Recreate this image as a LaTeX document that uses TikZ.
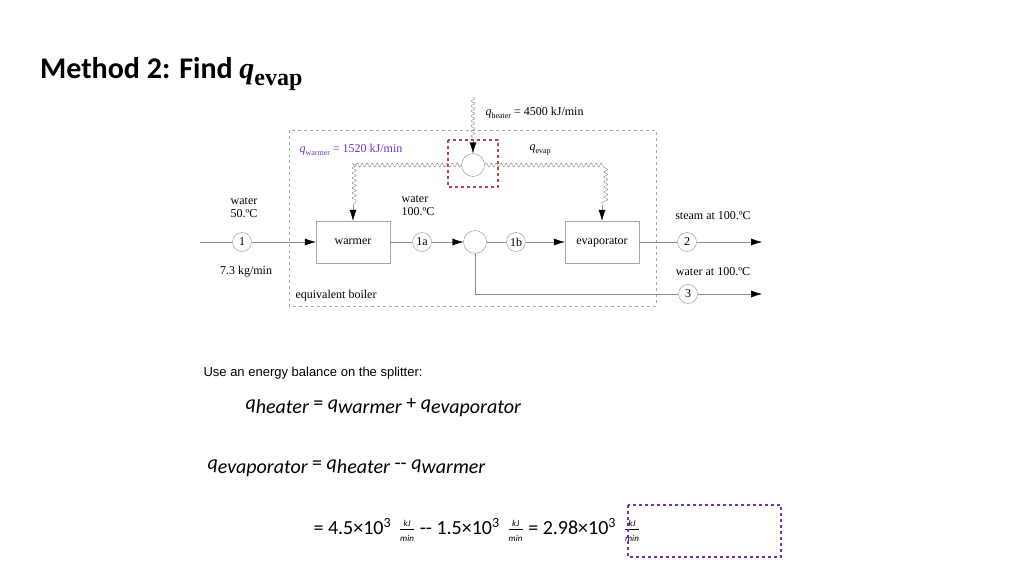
\documentclass[tikz,border=0pt]{standalone}
\usepackage{fontspec}
\setmainfont{Liberation Serif}
\newfontfamily\calib{Carlito}
\newfontfamily\arialf{Liberation Sans}
\usetikzlibrary{positioning,calc,decorations.pathmorphing,arrows.meta}
\definecolor{violet}{RGB}{112,48,200}
\definecolor{brick}{RGB}{180,70,70}
\newcommand{\qsub}[1]{\textit{q}\raisebox{-3pt}{\footnotesize #1}}
\newcommand{\eqq}[1]{\textit{q}\raisebox{-4pt}{\itshape #1}}

\begin{document}
\begin{tikzpicture}[%
    x=1pt, y=-1pt,
    font=\fontsize{12}{13}\selectfont,
    line/.style={draw=black!45},
    flow/.style={line, -{Latex[length=11pt,width=7pt,color=black]}},
    wave/.style={draw=black!45, decorate,
        decoration={snake, amplitude=2pt, segment length=5pt}},
    unit/.style={draw=black!35, minimum width=74pt, minimum height=42pt, inner sep=0pt},
    strm/.style={draw=black!45, circle, minimum size=19pt, inner sep=0pt},
    mix/.style={draw=black!45, circle, minimum size=23pt, inner sep=0pt}
]
\useasboundingbox (0,0) rectangle (1024,576);
    % title
    \node[anchor=base west, inner sep=0pt] (title) at (40,78)
        {\calib\bfseries\fontsize{30}{32}\selectfont Method 2: Find \textrm{\itshape q\raisebox{-7pt}{\upshape\fontsize{24}{24}\selectfont evap}}};
    % boundary
    \draw[black!35, dashed] (289,130) rectangle (656,306);
    \node[anchor=west] (boiler) at (292,296) {equivalent boiler};
    % units
    \node[unit] (warmer) at (353,242) {warmer};
    \node[unit] (evap) at (602,242) {evaporator};
    \node[mix] (split) at (475,242) {};
    \node[mix] (heat) at (473,165) {};
    \draw[brick, dashed, line width=2pt] (448,140) rectangle (498,187);
    % streams
    \node[strm] (s1) at (242,242) {1};
    \node[strm] (s1a) at (422,242) {1a};
    \node[strm] (s1b) at (516,242) {1b};
    \node[strm] (s2) at (687,242) {2};
    \node[strm] (s3) at (688,294) {3};
    \coordinate (in) at (200,242);
    \coordinate (out2) at (762,242);
    \coordinate (out3) at (762,294);
    \coordinate (top) at (473,97);
    \coordinate (hs) at (473,140);
    \coordinate (ws) at (353,205);
    \coordinate (es) at (602,205);
    \draw[line] (in) -- (s1);
    \draw[flow] (s1) -- (warmer);
    \draw[line] (warmer) -- (s1a);
    \draw[flow] (s1a) -- (split);
    \draw[line] (split) -- (s1b);
    \draw[flow] (s1b) -- (evap);
    \draw[line] (evap) -- (s2);
    \draw[flow] (s2) -- (out2);
    \draw[line] (split.south) |- (s3);
    \draw[flow] (s3) -- (out3);
    % heat flows
    \draw[wave] (top) -- (hs);
    \draw[flow] (hs) -- (heat.north);
    \draw[wave] (heat.west) -- (353,165) -- (ws);
    \draw[flow] (ws) -- (warmer.north);
    \draw[wave] (heat.east) -- (602,165) -- (es);
    \draw[flow] (es) -- (evap.north);
    % labels
    \node[anchor=west] (qh) at (482,113) {\qsub{heater} = 4500 kJ/min};
    \node[anchor=west, text=violet] (qw) at (296,150) {\qsub{warmer} = 1520 kJ/min};
    \node[anchor=west] (qe) at (526,150) {\qsub{evap}};
    \node[align=center] (w1) at (244,208) {water\\50.ºC};
    \node[align=left] (w2) at (418,206) {water\\100.ºC};
    \node (rate) at (246,272) {7.3 kg/min};
    \node (st2) at (713,216) {steam at 100.ºC};
    \node (st3) at (713,272) {water at 100.ºC};
    % balance
    \node[anchor=west, font=\arialf\fontsize{13}{15}\selectfont] (txt) at (200,373)
        {Use an energy balance on the splitter:};
    \node[anchor=west, font=\calib\fontsize{20}{22}\selectfont] (eq1) at (242,408)
        {\eqq{heater} = \eqq{warmer} + \eqq{evaporator}};
    \node[anchor=west, font=\calib\fontsize{20}{22}\selectfont] (eq2) at (204,468)
        {\eqq{evaporator} = \eqq{heater} -- \eqq{warmer}};
    \node[anchor=west, font=\calib\fontsize{20}{22}\selectfont] (eq3) at (310,530)
        {= 4.5×10\textsuperscript{3}\, $\frac{\hbox{\calib\itshape\small kJ}}{\hbox{\calib\itshape\small min}}$ -- 1.5×10\textsuperscript{3}\, $\frac{\hbox{\calib\itshape\small kJ}}{\hbox{\calib\itshape\small min}}$ = 2.98×10\textsuperscript{3}\, $\frac{\hbox{\calib\itshape\small kJ}}{\hbox{\calib\itshape\small min}}$};
    \draw[violet, dashed, line width=1.6pt] (628,505) rectangle (781,557);
\end{tikzpicture}
\end{document}
